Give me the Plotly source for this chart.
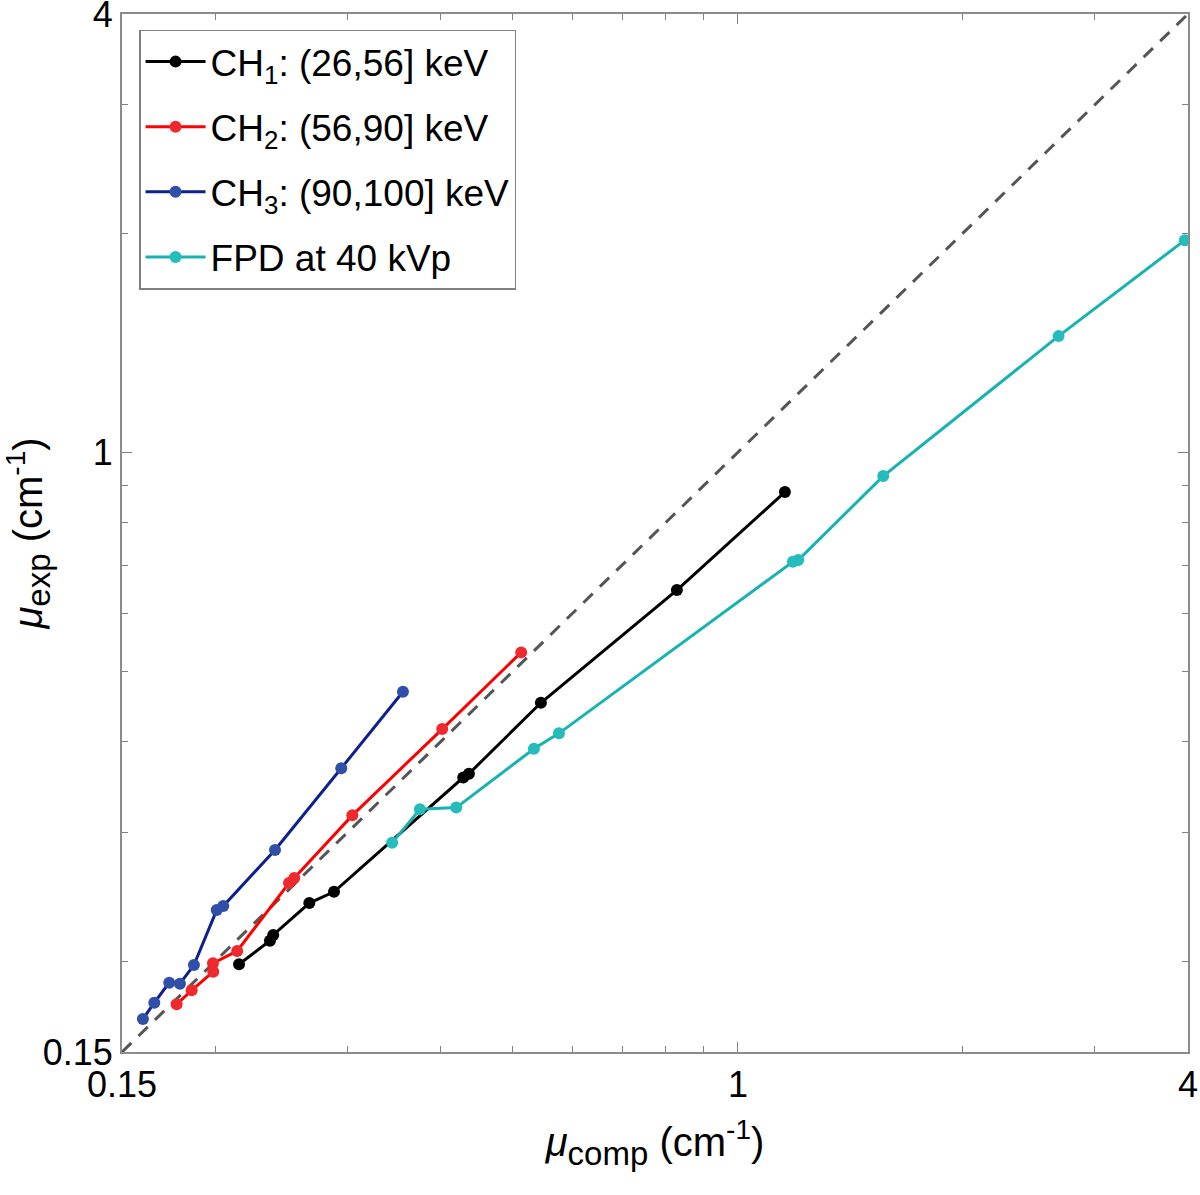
import plotly.graph_objects as go

# attenuation values (cm^-1)
ch1_comp = [0.2151, 0.2366, 0.2390, 0.2671, 0.2882, 0.4291, 0.4367, 0.5451, 0.8287, 1.1558]
ch1_exp = [0.1980, 0.2133, 0.2172, 0.2403, 0.2490, 0.3574, 0.3617, 0.4528, 0.6467, 0.8817]

ch2_comp = [0.1775, 0.1859, 0.1987, 0.1985, 0.2139, 0.2509, 0.2550, 0.3049, 0.4022, 0.5130]
ch2_exp = [0.1744, 0.1823, 0.1934, 0.1986, 0.2065, 0.2560, 0.2601, 0.3171, 0.4166, 0.5310]

ch3_comp = [0.1600, 0.1657, 0.1735, 0.1793, 0.1872, 0.2008, 0.2049, 0.2403, 0.2947, 0.3564]
ch3_exp = [0.1665, 0.1753, 0.1868, 0.1862, 0.1975, 0.2350, 0.2380, 0.2842, 0.3680, 0.4688]

fpd_comp = [0.3447, 0.3755, 0.4200, 0.5335, 0.5762, 1.1846, 1.2041, 1.5644, 2.685, 3.962]
fpd_exp = [0.2907, 0.3233, 0.3250, 0.3915, 0.4110, 0.7072, 0.7110, 0.9275, 1.444, 1.956]

diag = [0.15, 4]
major_ticks = [0.15, 1, 4]
major_text = ["0.15", "1", "4"]
minor_ticks = [0.2, 0.3, 0.4, 0.5, 0.6, 0.7, 0.8, 0.9, 2, 3]

series = [
    ("CH<sub>1</sub>: (26,56] keV", ch1_comp, ch1_exp, "#000000", "#000000"),
    ("CH<sub>2</sub>: (56,90] keV", ch2_comp, ch2_exp, "#ff0000", "#ee2a2e"),
    ("CH<sub>3</sub>: (90,100] keV", ch3_comp, ch3_exp, "#0f1f8f", "#2f4fa8"),
    ("FPD at 40 kVp", fpd_comp, fpd_exp, "#17b2b2", "#25bcbc"),
]

fig = go.Figure()

fig.add_trace(go.Scatter(x=diag, y=diag, mode="lines", showlegend=False,
                         line=dict(color="#555555", width=3, dash="13px,10px")))

for i, (name, xs, ys, lc, mc) in enumerate(series):
    fig.add_trace(go.Scatter(x=xs, y=ys, mode="lines+markers", name=name,
                             legendgroup="g%d" % i,
                             line=dict(color=lc, width=3),
                             marker=dict(color=mc, size=12)))

axis_common = dict(
    type="log",
    tickmode="array",
    tickvals=major_ticks,
    ticktext=major_text,
    ticks="inside",
    ticklen=10,
    tickwidth=1.2,
    tickcolor="#808080",
    minor=dict(tickmode="array", tickvals=minor_ticks, ticks="inside",
               ticklen=6, tickwidth=1.2, tickcolor="#808080"),
    showline=True,
    linecolor="#8c8c8c",
    linewidth=2,
    mirror="ticks",
    showgrid=False,
    zeroline=False,
    automargin=False,
    ticklabeloverflow="allow",
    tickfont=dict(size=36, color="#000000"),
    range=[-0.8239, 0.6021],
)

sub = "<sub><span style='font-size:33px'>%s</span></sub>"
sup = "<sup><span style='font-size:28px'>-1</span></sup>"

fig.update_xaxes(**axis_common,
                 title=dict(text="<i>μ</i>" + sub % "comp" + " (cm" + sup + ")",
                            font=dict(size=40, color="#000000"), standoff=24))
fig.update_yaxes(**axis_common,
                 title=dict(text="<i>μ</i>" + sub % "exp" + " (cm" + sup + ")",
                            font=dict(size=40, color="#000000"), standoff=24))

fig.update_layout(
    width=1200, height=1195,
    margin=dict(l=122, r=12, t=14, b=143),
    plot_bgcolor="white",
    paper_bgcolor="white",
    font=dict(family="Liberation Sans, Arial, sans-serif", color="#000000"),
    legend=dict(x=0.016, y=0.985, xanchor="left", yanchor="top",
                bordercolor="#808080", borderwidth=1.5, bgcolor="white",
                font=dict(size=37, color="#000000"), itemwidth=60,
                tracegroupgap=14),
)

# drop the default page margin so the figure sits at the window corner
fig.write_html("out.html", config={"displayModeBar": False},
               post_script="document.body.style.margin='0';")
